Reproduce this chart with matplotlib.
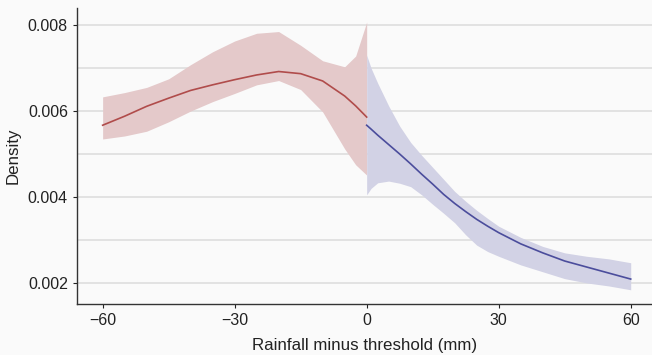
import matplotlib
matplotlib.use("Agg")
import matplotlib.pyplot as plt
import numpy as np

plt.rcParams['font.family'] = ['Liberation Sans', 'DejaVu Sans']

# Left of threshold (red)
x_left = [-60, -55, -50, -45, -40, -35, -30, -25, -20, -15, -10, -5, -2.5, 0]
y_left = [0.00567, 0.00588, 0.00611, 0.00630, 0.00648, 0.00661, 0.00673, 0.00684,
          0.00692, 0.00687, 0.00670, 0.00635, 0.00612, 0.00586]
lo_left = [0.00535, 0.00542, 0.00553, 0.00575, 0.00600, 0.00622, 0.00641, 0.00661,
           0.00671, 0.00650, 0.00598, 0.00512, 0.00475, 0.00451]
hi_left = [0.00633, 0.00643, 0.00655, 0.00675, 0.00708, 0.00738, 0.00763, 0.00781,
           0.00785, 0.00753, 0.00717, 0.00703, 0.00728, 0.00807]

# Right of threshold (blue)
x_right = [0, 1, 2.5, 5, 7.5, 10, 12.5, 15, 17.5, 20, 22.5, 25, 27.5, 30,
           35, 40, 45, 50, 55, 60]
y_right = [0.00567, 0.00558, 0.00544, 0.00522, 0.00500, 0.00477, 0.00453, 0.00430,
           0.00406, 0.00385, 0.00366, 0.00348, 0.00332, 0.00317,
           0.00291, 0.00270, 0.00251, 0.00237, 0.00223, 0.00209]
lo_right = [0.00405, 0.00420, 0.00433, 0.00437, 0.00432, 0.00424, 0.00405, 0.00383,
            0.00362, 0.00340, 0.00312, 0.00288, 0.00273, 0.00262,
            0.00242, 0.00226, 0.00210, 0.00200, 0.00193, 0.00184]
hi_right = [0.00730, 0.00700, 0.00665, 0.00612, 0.00565, 0.00527, 0.00497, 0.00469,
            0.00441, 0.00413, 0.00390, 0.00369, 0.00350, 0.00332,
            0.00306, 0.00285, 0.00270, 0.00262, 0.00256, 0.00247]

xticks = [-60, -30, 0, 30, 60]
yticks = [0.002, 0.004, 0.006, 0.008]
ygrid = [0.002, 0.003, 0.004, 0.005, 0.006, 0.007, 0.008]

bg = '#fafafa'
fig = plt.figure(figsize=(6.52, 3.55), dpi=100, facecolor=bg)
ax = fig.add_axes([0.118, 0.1437, 0.882, 0.834], facecolor=bg)

for g in ygrid:
    ax.axhline(g, color='#dedede', lw=1.2, zorder=0)

ax.fill_between(x_left, lo_left, hi_left, color='#e4c9ca', lw=0, zorder=1)
ax.fill_between(x_right, lo_right, hi_right, color='#d2d2e5', lw=0, zorder=1)
ax.plot(x_left, y_left, color='#b04c4b', lw=1.2, zorder=3)
ax.plot(x_right, y_right, color='#4b4d9c', lw=1.2, zorder=3)

ax.set_xlim(-65.84, 64.84)
ax.set_ylim(0.00151, 0.0084)
ax.set_xticks(xticks)
ax.set_xticklabels(['\u221260', '\u221230', '0', '30', '60'])
ax.set_yticks(yticks)
ax.set_yticklabels(['0.002', '0.004', '0.006', '0.008'])
ax.tick_params(axis='both', labelsize=11.5, colors='#222222', length=3, width=0.8)

for s in ['top', 'right']:
    ax.spines[s].set_visible(False)
for s in ['left', 'bottom']:
    ax.spines[s].set_color('#333333')
    ax.spines[s].set_linewidth(1.0)

ax.set_xlabel('Rainfall minus threshold (mm)', fontsize=12.2, color='#222222', labelpad=7)
ax.set_ylabel('Density', fontsize=12.2, color='#222222', labelpad=5)

fig.savefig('out.png', dpi=100, facecolor=bg)
